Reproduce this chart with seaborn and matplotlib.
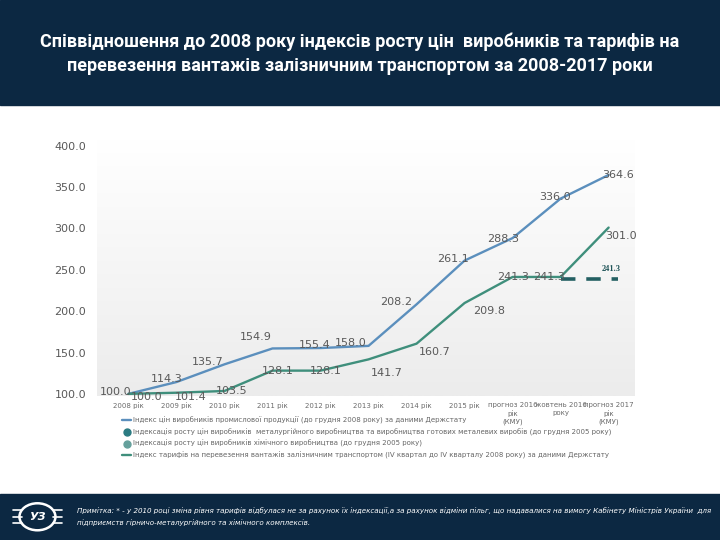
import numpy as np
import pandas as pd
import matplotlib
matplotlib.use("Agg")
import matplotlib.pyplot as plt
import seaborn as sns
from matplotlib.lines import Line2D
from matplotlib.patches import Rectangle, Ellipse

# ---------------------------------
# Data
# ---------------------------------
categories = ["2008 рік", "2009 рік", "2010 рік", "2011 рік", "2012 рік", "2013 рік",
              "2014 рік", "2015 рік", "прогноз 2016\nрік\n(КМУ)", "жовтень 2016\nроку",
              "прогноз 2017\nрік\n(КМУ)"]
producer_idx = [100.0, 114.3, 135.7, 154.9, 155.4, 158.0, 208.2, 261.1, 288.3, 336.0, 364.6]
tariff_idx = [100.0, 101.4, 103.5, 128.1, 128.1, 141.7, 160.7, 209.8, 241.3, 241.3, 301.0]
dash_level = 241.3
y_ticks = [100, 150, 200, 250, 300, 350, 400]

legend_labels = [
    "Індекс цін виробників промислової продукції (до грудня 2008 року) за даними Держстату",
    "Індексація росту цін виробників  металургійного виробництва та виробництва готових металевих виробів (до грудня 2005 року)",
    "Індексація росту цін виробників хімічного виробництва (до грудня 2005 року)",
    "Індекс тарифів на перевезення вантажів залізничним транспортом (IV квартал до IV кварталу 2008 року) за даними Держстату",
]

title = ("Співвідношення до 2008 року індексів росту цін  виробників та тарифів на\n"
         "перевезення вантажів залізничним транспортом за 2008-2017 роки")
note = ("Примітка: * - у 2010 році зміна рівня тарифів відбулася не за рахунок їх індексації,а за рахунок "
        "відміни пільг, що надавалися на вимогу Кабінету Міністрів України  для\n"
        "підприємств гірничо-металургійного та хімічного комплексів.")

# label offsets in points (dx, dy)
producer_off = [(-9, 1), (-7, 2), (-12, 2), (-12, 8), (-4, 2), (-13, 2),
                (-15, 2), (-8, 1), (-7, -1), (-4, 1), (7, 0)]
tariff_off = [(13, -2), (10, -3), (5, 0), (4, 0), (4, 0), (13, -10),
              (13, -6), (18, -6), (0, 0), (-8, 0), (9, -6)]

blue = "#5b8fbd"
green = "#3f8f7c"
navy = "#0c2842"

df = pd.DataFrame({
    "pos": list(range(len(categories))) * 2,
    "value": producer_idx + tariff_idx,
    "series": ["producer"] * len(categories) + ["tariff"] * len(categories),
})

# ---------------------------------
# Figure
# ---------------------------------
sns.set_style("white")
plt.rcParams["font.family"] = ["DejaVu Sans"]

fig = plt.figure(figsize=(7.2, 5.4), dpi=100)

# header / footer bands
fig.patches.append(Rectangle((0, 0.806), 1, 0.194, transform=fig.transFigure,
                             color=navy, zorder=0))
fig.patches.append(Rectangle((0, 0), 1, 0.085, transform=fig.transFigure,
                             color=navy, zorder=0))
fig.text(0.5, 0.9, title, ha="center", va="center", color="white",
         fontsize=13, fontweight="bold", family=["Roboto", "DejaVu Sans"],
         linespacing=1.4)
fig.text(0.107, 0.043, note, ha="left", va="center", color="white",
         fontsize=5.1, style="italic", linespacing=1.8)

# simple logo
fig.patches.append(Ellipse((0.052, 0.043), 0.05, 0.05, transform=fig.transFigure,
                           fill=False, ec="white", lw=1.8, zorder=2))
fig.text(0.052, 0.043, "УЗ", ha="center", va="center", color="white",
         fontsize=8, fontweight="bold", style="italic")
for dy in (0.012, 0.0, -0.012):
    fig.lines.append(Line2D([0.018, 0.03], [0.043 + dy, 0.043 + dy],
                            transform=fig.transFigure, color="white", lw=1.2))
    fig.lines.append(Line2D([0.074, 0.086], [0.043 + dy, 0.043 + dy],
                            transform=fig.transFigure, color="white", lw=1.2))

ax = fig.add_axes([0.135, 0.266, 0.747, 0.475])

# light gradient background
grad = np.linspace(1, 0, 256).reshape(-1, 1)
ax.imshow(grad, extent=[-0.65, 10.55, 97, 407], aspect="auto",
          cmap=matplotlib.colors.LinearSegmentedColormap.from_list("g", ["#ececec", "#ffffff"]),
          vmin=0, vmax=1, zorder=0, origin="upper")

sns.lineplot(data=df, x="pos", y="value", hue="series",
             palette={"producer": blue, "tariff": green}, linewidth=1.7,
             legend=False, ax=ax, zorder=3)

ax.plot([9, 10.2], [dash_level - 2.5, dash_level - 2.5], color="#235f62", lw=2.6,
        dashes=(4, 3), zorder=3)
ax.annotate(f"{dash_level:.1f}", (10, dash_level), xytext=(2, 6), textcoords="offset points",
            ha="center", va="center", fontsize=6, color="#1f5458", fontweight="bold",
            family=["Liberation Serif", "DejaVu Serif"])

for i, v in enumerate(producer_idx):
    dx, dy = producer_off[i]
    ax.annotate(f"{v:.1f}", (i, v), xytext=(dx, dy), textcoords="offset points",
                ha="center", va="center", fontsize=8, color="#595959", zorder=4)
for i, v in enumerate(tariff_idx):
    dx, dy = tariff_off[i]
    ax.annotate(f"{v:.1f}", (i, v), xytext=(dx, dy), textcoords="offset points",
                ha="center", va="center", fontsize=8, color="#595959", zorder=4)

ax.set_xlim(-0.65, 10.55)
ax.set_ylim(97, 407)
ax.set_yticks(y_ticks)
ax.set_yticklabels([f"{t:.1f}" for t in y_ticks], fontsize=8, color="#595959")
ax.set_xticks(range(len(categories)))
ax.set_xticklabels(categories, fontsize=5, color="#6a6a6a", linespacing=1.35, va="top")
ax.tick_params(axis="both", length=0, pad=4)
ax.tick_params(axis="y", pad=8)
ax.set_xlabel("")
ax.set_ylabel("")
sns.despine(ax=ax, left=True, bottom=True, top=True, right=True)

handles = [
    Line2D([], [], color=blue, lw=1.7),
    Line2D([], [], color="#2b7b82", marker="o", ls="", markersize=5),
    Line2D([], [], color="#65a09c", marker="o", ls="", markersize=5),
    Line2D([], [], color=green, lw=1.7),
]
fig.legend(handles, legend_labels, loc="upper left", bbox_to_anchor=(0.17, 0.228),
           frameon=False, fontsize=5, labelcolor="#666666", handlelength=1.2,
           handletextpad=0.3, labelspacing=0.6, borderaxespad=0, borderpad=0)

fig.savefig("out.png", dpi=100)
